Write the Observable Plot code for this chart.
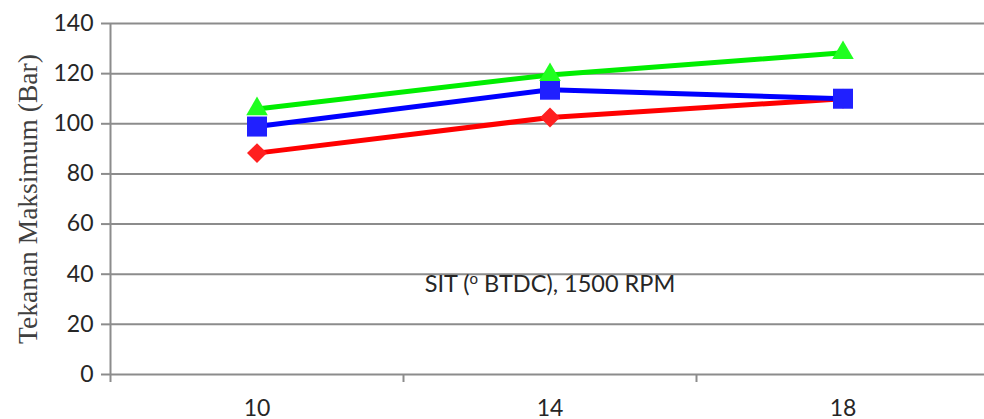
<!DOCTYPE html>
<html>
<head>
<meta charset="utf-8">
<script src="https://cdn.jsdelivr.net/npm/d3@7"></script>
<script src="https://cdn.jsdelivr.net/npm/@observablehq/plot@0.6"></script>
<style>
  html, body { margin: 0; padding: 0; background: #fff; }
  #chart svg { display: block; }
  g[aria-label="y-axis tick label"] text { font-family: Lato, "Open Sans", sans-serif; font-size: 23px; fill: #262626; }
  g[aria-label="x-axis tick label"] text { font-family: Lato, "Open Sans", sans-serif; font-size: 23px; fill: #262626; }
  g[aria-label="y-axis label"] text { font-family: "Liberation Serif", "DejaVu Serif", serif; font-size: 27.5px; fill: #404040; }
  .note text { font-family: Lato, "Open Sans", sans-serif; font-size: 23.5px; fill: #262626; }
</style>
</head>
<body>
<div id="chart"></div>
<script>
// SIT (degrees BTDC) categories
const sit = [10, 14, 18];
// category boundaries on the x axis (tick marks between categories)
const sitBounds = [8, 12, 16];
// Tekanan maksimum (Bar) per series
const seriesRed   = [88.3, 102.5, 110.0];
const seriesBlue  = [98.9, 113.6, 110.0];
const seriesGreen = [105.9, 119.5, 128.3];
const yTicks = [0, 20, 40, 60, 80, 100, 120, 140];

const series = [
  {name: "red",   values: seriesRed,   line: "#ff0000", fill: "#ff2020", symbol: "diamond2", r: 9},
  {name: "blue",  values: seriesBlue,  line: "#0000ff", fill: "#2020ff", symbol: "square",   r: 11.3},
  {name: "green", values: seriesGreen, line: "#00ee00", fill: "#20ff20", symbol: "triangle", r: 8}
];
const rows = series.flatMap(s => s.values.map((v, i) => ({sit: sit[i], p: v, s: s.name})));

const gridColor = "#8c8c8c";

const marks = [
  Plot.gridY(yTicks, {stroke: gridColor, strokeOpacity: 1, strokeWidth: 2}),
  Plot.axisY(yTicks, {tickSize: 9, stroke: gridColor, strokeWidth: 2, tickPadding: 8,
    label: "Tekanan Maksimum (Bar)", labelAnchor: "center", labelArrow: "none", labelOffset: 93}),
  Plot.ruleX([8], {y1: 0, y2: 140, stroke: gridColor, strokeWidth: 2}),
  Plot.axisX(sitBounds, {tickSize: 8, stroke: gridColor, strokeWidth: 2, tickFormat: () => "", label: null}),
  Plot.axisX(sit, {tickSize: 0, tickPadding: 25, label: null, tickFormat: d => String(d)}),
];
for (const s of series) {
  marks.push(Plot.line(rows.filter(d => d.s === s.name), {x: "sit", y: "p", stroke: s.line, strokeWidth: 5}));
}
for (const s of series) {
  marks.push(Plot.dot(rows.filter(d => d.s === s.name), {x: "sit", y: "p", symbol: s.symbol, r: s.r, fill: s.fill, stroke: "none"}));
}
marks.push(Plot.text(["SIT (o BTDC), 1500 RPM"], {x: 14, y: 36, text: d => d, className: "note"}));

const plot = Plot.plot({
  width: 984,
  height: 419,
  marginLeft: 110,
  marginRight: 0,
  marginTop: 23,
  marginBottom: 45,
  style: {background: "#fff", overflow: "visible"},
  x: {type: "linear", domain: [8, 20], range: [110, 989]},
  y: {domain: [0, 140]},
  marks
});

// superscript "o" in the annotation
const note = plot.querySelector(".note text");
if (note) {
  note.textContent = "";
  const parts = [["SIT (", null], ["o", "sup"], [" BTDC), 1500 RPM", null]];
  for (const [t, k] of parts) {
    const ts = document.createElementNS("http://www.w3.org/2000/svg", "tspan");
    ts.textContent = t;
    if (k === "sup") { ts.setAttribute("dy", "-8"); ts.setAttribute("font-size", "15px"); }
    else if (t.startsWith(" ")) { ts.setAttribute("dy", "8"); }
    note.appendChild(ts);
  }
}
document.getElementById("chart").appendChild(plot);
</script>
</body>
</html>
